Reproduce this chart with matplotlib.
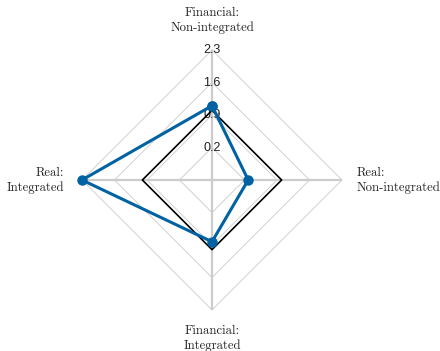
import numpy as np
import matplotlib
matplotlib.use("Agg")
import matplotlib.pyplot as plt

# Radar chart: observed profile against a unit reference
categories = ["Financial:\nNon-integrated", "Real:\nNon-integrated",
              "Financial:\nIntegrated", "Real:\nIntegrated"]
reference = [1.0, 1.0, 1.0, 1.0]
observed = [1.1, 0.28, 0.83, 2.3]
ring_levels = [0.2, 0.9, 1.6, 2.3]
ring_labels = ["0.2", "0.9", "1.6", "2.3"]
r_min, r_max = -0.5, 2.3

blue = "#0062a2"
grid_c = "#d6d6d6"
spoke_c = "#cccccc"

fig = plt.figure(figsize=(4.40, 3.51), dpi=100)
ax = fig.add_axes([82 / 440, 41 / 351, 260 / 440, 260 / 351], projection="polar")
ax.set_theta_zero_location("N")
ax.set_theta_direction(-1)
ax.set_ylim(r_min, r_max)
ax.grid(False)
ax.spines["polar"].set_visible(False)
ax.set_xticks([])
ax.set_yticks([])
ax.patch.set_alpha(0)

n = len(categories)
theta = np.arange(n) * 2 * np.pi / n
theta_c = np.append(theta, theta[0])

# polygonal grid rings
for lvl in ring_levels:
    ax.plot(theta_c, [lvl] * (n + 1), color=grid_c, lw=0.8, zorder=1,
            clip_on=False)
# spokes
for t in theta:
    ax.plot([t, t], [r_min, r_max], color=spoke_c, lw=1.6, zorder=1,
            solid_capstyle="butt", clip_on=False)

# ring value labels along the top spoke
for lvl, lab in zip(ring_levels, ring_labels):
    ax.text(0, lvl, lab, ha="center", va="center", fontsize=9,
            family="Liberation Sans", color="#222222", zorder=2)

ax.plot(theta_c, reference + reference[:1], color="black", lw=1.2, zorder=3)
ax.plot(theta_c, observed + observed[:1], color=blue, lw=2.2, zorder=4,
        marker="o", markersize=6.5, markeredgecolor=blue, markerfacecolor=blue,
        clip_on=False)

# category labels
lab_kw = dict(fontsize=9.2, family="cmr10", color="#222222", linespacing=1.25)
fig.text(212 / 440, 1 - 20 / 351, categories[0], ha="center", va="center",
         multialignment="center", **lab_kw)
fig.text(357 / 440, 1 - 180 / 351, categories[1], ha="left", va="center",
         multialignment="left", **lab_kw)
fig.text(212 / 440, 1 - 338 / 351, categories[2], ha="center", va="center",
         multialignment="center", **lab_kw)
fig.text(64 / 440, 1 - 180 / 351, categories[3], ha="right", va="center",
         multialignment="right", **lab_kw)

fig.savefig("out.png", dpi=100)
